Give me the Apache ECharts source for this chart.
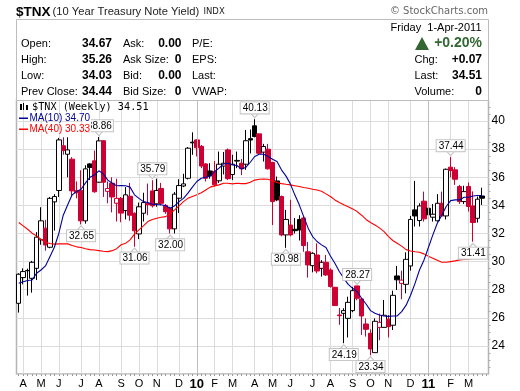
<!DOCTYPE html>
<html><head><meta charset="utf-8">
<style>html,body{margin:0;padding:0;background:#fff}#c{width:520px;height:391px}</style>
<script src="https://cdn.jsdelivr.net/npm/echarts@6/dist/echarts.min.js"></script>
</head><body><div id="c"></div>
<script>
var opens=[27.03,28.86,29.35,28.81,29.52,31.55,32.38,31.02,34.25,35.06,
38.24,37.64,37.29,35.05,35.05,32.9,36.95,37.17,35.65,38.6,
35.0,35.58,34.15,34.5,33.63,34.65,33.44,31.97,33.44,34.15,
35.03,34.11,35.2,34.0,33.8,32.33,34.51,35.38,35.93,38.5,
38.66,38.2,36.95,36.45,36.4,35.75,36.8,37.95,36.2,37.2,
37.0,36.93,38.75,39.66,39.09,37.79,38.0,37.05,35.74,34.63,
31.9,32.6,32.3,33.0,33.1,30.7,29.71,30.47,29.52,29.95,
29.4,28.17,26.2,26.32,25.96,26.51,28.27,27.34,25.56,24.9,
23.52,25.32,25.32,25.9,25.47,28.98,28.45,28.38,29.69,33.68,
32.92,34.3,33.8,33.16,32.9,34.15,33.25,36.72,36.53,35.34,
34.27,35.34,33.96,33.08,34.67];
var closes=[29.1,29.29,29.37,29.95,31.74,32.9,31.18,34.5,34.63,38.66,
37.9,37.95,35.03,34.9,32.9,36.6,36.7,34.97,38.59,35.65,
35.2,34.6,34.5,33.45,34.75,33.3,32.19,33.9,34.2,34.05,
33.97,35.06,34.15,33.55,32.33,34.8,35.41,35.53,38.07,38.45,
38.1,36.8,35.93,36.1,35.46,36.93,37.0,35.9,36.93,37.15,
36.6,38.6,38.65,38.9,37.71,38.19,36.6,34.27,34.39,31.9,
33.0,31.9,32.2,32.25,31.14,29.76,30.59,29.33,29.95,29.05,
28.22,26.87,26.15,26.51,27.1,27.93,27.39,26.13,25.18,23.78,
25.75,25.68,26.18,25.37,27.6,28.7,28.68,30.16,33.0,33.25,
33.96,33.04,33.33,33.37,34.15,33.25,36.57,36.48,35.86,34.27,
34.98,33.92,32.78,34.44,34.51];
var lows=[26.37,28.38,27.58,27.79,28.69,31.2,30.78,30.95,32.2,34.6,
37.6,36.0,34.65,34.5,32.65,32.7,35.8,34.9,35.6,34.6,
34.15,33.5,32.85,32.8,33,32.9,31.06,31.6,32.85,33.3,
33.85,33.9,34,33.4,32.0,32.0,33.45,35.3,35.85,37.6,
37.48,36.65,35.7,35.9,35.35,35.6,36.2,35.8,35.8,36.65,
36.15,36.53,37.7,38.85,37.6,37.12,36.55,32.6,34.3,31.8,
30.98,31.8,32.0,31.5,30.7,28.86,29.24,29.17,28.93,28.98,
28.15,26.85,25.5,24.19,24.6,26.4,27.25,24.78,24.66,23.34,
23.5,24.4,25.3,24.6,25.13,27.98,27.32,27.74,29.36,32.5,
32.5,32.85,32.85,32.85,32.85,33.2,33.0,36.0,35.46,34.1,
34.1,33.56,31.41,32.78,34.03];
var highs=[29.17,29.52,29.5,30.05,32.1,33.87,32.97,34.6,34.8,38.8,
38.85,38.85,37.43,35.7,36.5,36.85,37.0,37.9,38.86,38.65,
35.7,36,35.9,34.6,35.3,35.6,33.5,34.2,34.9,35.55,
35.79,35.9,35.6,34.1,33.9,34.95,35.86,36.25,38.15,39.2,
38.7,38.3,37.0,37,37.15,37.83,37.8,38.05,37.6,37.83,
37.3,39.37,39.4,40.13,39.1,38.38,38.38,37.1,36.05,34.7,
33.68,34.4,33.1,33.3,33.2,31.4,30.66,31.3,30.1,30.47,
29.52,28.2,26.7,26.68,27.5,28.2,28.27,27.4,25.96,25.18,
25.96,26.3,27.27,26.2,27.93,29.69,29.35,30.66,33.25,35.74,
34.15,34.98,35,34.1,34.8,34.98,36.62,37.44,36.72,35.46,
35.4,35.63,35.0,34.63,35.26];
var ma10=[28.46,28.57,28.65,28.69,29.17,29.4,29.69,30.35,31.02,32.0,
33.3,34.04,34.75,34.99,35.15,35.6,36,36.17,36.46,36.24,
35.8,35.58,35.4,35.42,35.4,35.3,34.75,34.5,34.27,34.2,
34.08,34.04,34.04,33.97,33.8,33.97,34.27,34.5,34.87,35.3,
35.7,35.93,36,36.1,36.41,36.65,36.95,37,36.88,36.84,
36.6,36.7,37.07,37.48,37.64,37.64,37.48,37.29,37.12,36.53,
36.1,35.53,34.75,34.04,33.2,32.38,31.78,31.43,31.19,31.0,
30.4,29.88,29.3,28.81,28.38,28.1,27.86,27.39,26.98,26.51,
26.32,26.2,26.13,26.1,26.13,26.13,26.44,26.9,27.6,28.45,
29.4,30.1,31.0,31.9,32.73,33.3,33.92,34.34,34.39,34.39,
34.58,34.58,34.67,34.7,34.7];
var ma40=[32.78,32.54,32.3,32.02,31.83,31.59,31.38,31.29,31.24,31.26,
31.26,31.26,31.15,31.05,31.0,30.92,30.85,30.82,30.78,30.74,
30.71,30.78,30.92,31.2,31.3,31.55,31.95,32.26,32.54,32.85,
33,33.09,33.16,33.2,33.4,33.68,33.97,34.27,34.5,34.63,
34.75,34.9,35.1,35.3,35.39,35.46,35.58,35.58,35.53,35.58,
35.55,35.55,35.65,35.8,35.86,35.88,35.86,35.74,35.63,35.55,
35.5,35.46,35.4,35.34,35.27,35.22,35.15,35.1,35.0,34.82,
34.63,34.39,34.2,34.04,33.9,33.75,33.56,33.3,33,32.78,
32.6,32.4,32.15,31.8,31.5,31.3,31.1,30.85,30.75,30.7,
30.67,30.55,30.38,30.24,30.1,29.95,29.95,30,30.05,30.12,
30.15,30.19,30.22,30.27,30.33];
var monthIdx=[1,5,9,14,18,23,27,31,36,40,44,48,53,57,61,66,70,75,79,83,88,92,97,101];
var monthTxt=['A','M','J','J','A','S','O','N','D','10','F','M','A','M','J','J','A','S','O','N','D','11','F','M'];
var callouts=[[18,'38.86',1],[14,'32.65',0],[26,'31.06',0],[30,'35.79',1],[34,'32.00',0],[53,'40.13',1],[60,'30.98',0],[73,'24.19',0],[76,'28.27',1],[79,'23.34',0],[97,'37.44',1],[102,'31.41',0]];
var yTicks=[24,26,28,30,32,34,36,38,40];
var UP='#000000',DOWN='#cc0033',SANSNAME='Liberation Sans',SANS='"Liberation Sans",Arial,sans-serif';

var cats=opens.map(function(_,i){return String(i)});cats.push('x');
var tickText={};monthIdx.forEach(function(k,j){tickText[k]=monthTxt[j]});
var candles=opens.map(function(o,i){
  var c=(i===0||closes[i]>=closes[i-1])?UP:DOWN;
  var f=closes[i]>o?'#ffffff':c;
  return {value:[o,closes[i],lows[i],highs[i]],itemStyle:{color:f,color0:f,borderColor:c,borderColor0:c,borderWidth:1}};
});
var pins=callouts.map(function(p){
  var up=p[2]===1,v=up?highs[p[0]]:lows[p[0]];
  return {coord:[String(p[0]),v],value:p[1],symbol:'path://M0 0L5 5L10 0',symbolSize:[9,5],symbolRotate:up?0:180,symbolOffset:[0,up?-4:4],
    itemStyle:{color:'#fff',borderColor:'#c4c4c4',borderWidth:1},
    label:{show:true,position:up?'top':'bottom',distance:-1,formatter:p[1],color:'#000',fontFamily:SANSNAME,fontSize:10,backgroundColor:'#fff',borderColor:'#c4c4c4',borderWidth:1,padding:[1,1,0,2],lineHeight:10}};
});
function T(t,x,y,font,o){o=o||{};return {type:'text',z:100,silent:true,style:{text:t,x:x,y:y,font:font,fill:o.fill||'#000',textAlign:o.align||'left',textVerticalAlign:'middle',backgroundColor:o.bg}}}
var F12='11px '+SANS,B12='bold 12px '+SANS;
var g=[
 {type:'rect',z:90,silent:true,shape:{x:16.5,y:19.5,width:472,height:81},style:{fill:'#fff',stroke:'#bdbdbd',lineWidth:1}},
 T('$TNX',16,12,'bold 13.5px '+SANS),
 T('(10 Year Treasury Note Yield)',52.5,12,'11.2px '+SANS,{fill:'#222'}),
 T('INDX',203.5,12,'8.5px "DejaVu Sans"',{fill:'#222'}),
 T('© StockCharts.com',488,11,'10px "DejaVu Sans"',{align:'right',fill:'#666'}),
 T('Friday  1-Apr-2011',481.5,28,F12,{align:'right'}),
 T('+0.20%',482,43.5,'bold 14px '+SANS,{align:'right',fill:'#336633'}),
 {type:'polygon',z:100,silent:true,shape:{points:[[422,37],[429,50],[415,50]]},style:{fill:'#336633'}},
 T('Chg:',414.5,60,F12),T('+0.07',482,60,B12,{align:'right'}),
 T('Last:',414.5,76,F12),T('34.51',482,76,B12,{align:'right'}),
 T('Volume:',414.5,92,F12),T('0',482,92,B12,{align:'right'})
];
[['Open:','34.67','Ask:','0.00','P/E:',44],['High:','35.26','Ask Size:','0','EPS:',60],['Low:','34.03','Bid:','0.00','Last:',76],['Prev Close:','34.44','Bid Size:','0','VWAP:',92]].forEach(function(r){
 g.push(T(r[0],21,r[5],F12),T(r[1],112,r[5],B12,{align:'right'}),T(r[2],123,r[5],F12),T(r[3],181.5,r[5],B12,{align:'right'}),T(r[4],192,r[5],F12));
});
[[20,104,2,6],[23,103,1,7],[26,105,2,5]].forEach(function(b){g.push({type:'rect',z:100,silent:true,shape:{x:b[0],y:b[1],width:b[2],height:b[3]},style:{fill:'#000'}})});
g.push(T('$TNX (Weekly) 34.51',32,107.5,'10.2px "DejaVu Sans Mono"'));
g.push({type:'rect',z:99,silent:true,shape:{x:83,y:119,width:8,height:13},style:{fill:'#fff'}});
g.push({type:'rect',z:100,silent:true,shape:{x:19,y:117.5,width:9,height:1.5},style:{fill:'#000099'}});
g.push({type:'rect',z:100,silent:true,shape:{x:19,y:128.5,width:9,height:1.5},style:{fill:'#ff0000'}});
g.push(T('MA(10) 34.70',29.5,118.5,'10px '+SANS,{fill:'#000099'}));
g.push(T('MA(40) 30.33',29.5,129.5,'10px '+SANS,{fill:'#ff0000'}));

var chart=echarts.init(document.getElementById('c'),null,{renderer:'canvas'});
chart.setOption({
 animation:false,backgroundColor:'#fff',
 grid:{left:16.5,top:100,width:472,height:274,show:true,borderColor:'#b4b4b4',borderWidth:1.5,backgroundColor:'#fff'},
 xAxis:{type:'category',data:cats,boundaryGap:true,
  axisLine:{show:false},
  axisTick:{show:true,alignWithLabel:true,interval:0,length:2,inside:false,lineStyle:{color:'#999'}},
  axisLabel:{show:true,interval:0,hideOverlap:false,margin:4,formatter:function(v){var t=tickText[v];if(!t)return '';return /\d/.test(t)?'{b|'+t+'}':t},color:'#000',fontFamily:SANSNAME,fontSize:11,
    rich:{b:{fontFamily:SANSNAME,fontWeight:'bold',fontSize:13,color:'#000'}}},
  splitLine:{show:true,alignWithLabel:true,interval:function(i){return tickText[String(i)]!==undefined},lineStyle:{color:'#dcdcdc',width:1}}},
 yAxis:{type:'value',position:'right',min:22,max:41.5,interval:2,
  axisLine:{show:false},axisTick:{show:false},
  minorTick:{show:true,splitNumber:4,length:2,lineStyle:{color:'#aaa'}},
  axisLabel:{margin:3,color:'#000',fontFamily:SANSNAME,fontSize:12,formatter:function(v){return yTicks.indexOf(v)>=0?String(v):''}},
  splitLine:{show:true,lineStyle:{color:'#dcdcdc',width:1}}},
 series:[
  {type:'line',name:'years',data:[],z:1,silent:true,markLine:{silent:true,symbol:'none',label:{show:false},lineStyle:{color:'#bdbdbd',width:1,type:'solid'},data:[{xAxis:'40'},{xAxis:'92'}]}},
  {type:'candlestick',name:'$TNX',data:candles,barWidth:5,z:3,markPoint:{silent:true,z:6,data:pins}},
  {type:'line',name:'MA(40)',data:ma40,symbol:'none',z:4,silent:true,lineStyle:{color:'#ff0000',width:1.1}},
  {type:'line',name:'MA(10)',data:ma10,symbol:'none',z:5,silent:true,lineStyle:{color:'#000099',width:1.1}}
 ],
 graphic:{elements:g}
});
</script></body></html>
